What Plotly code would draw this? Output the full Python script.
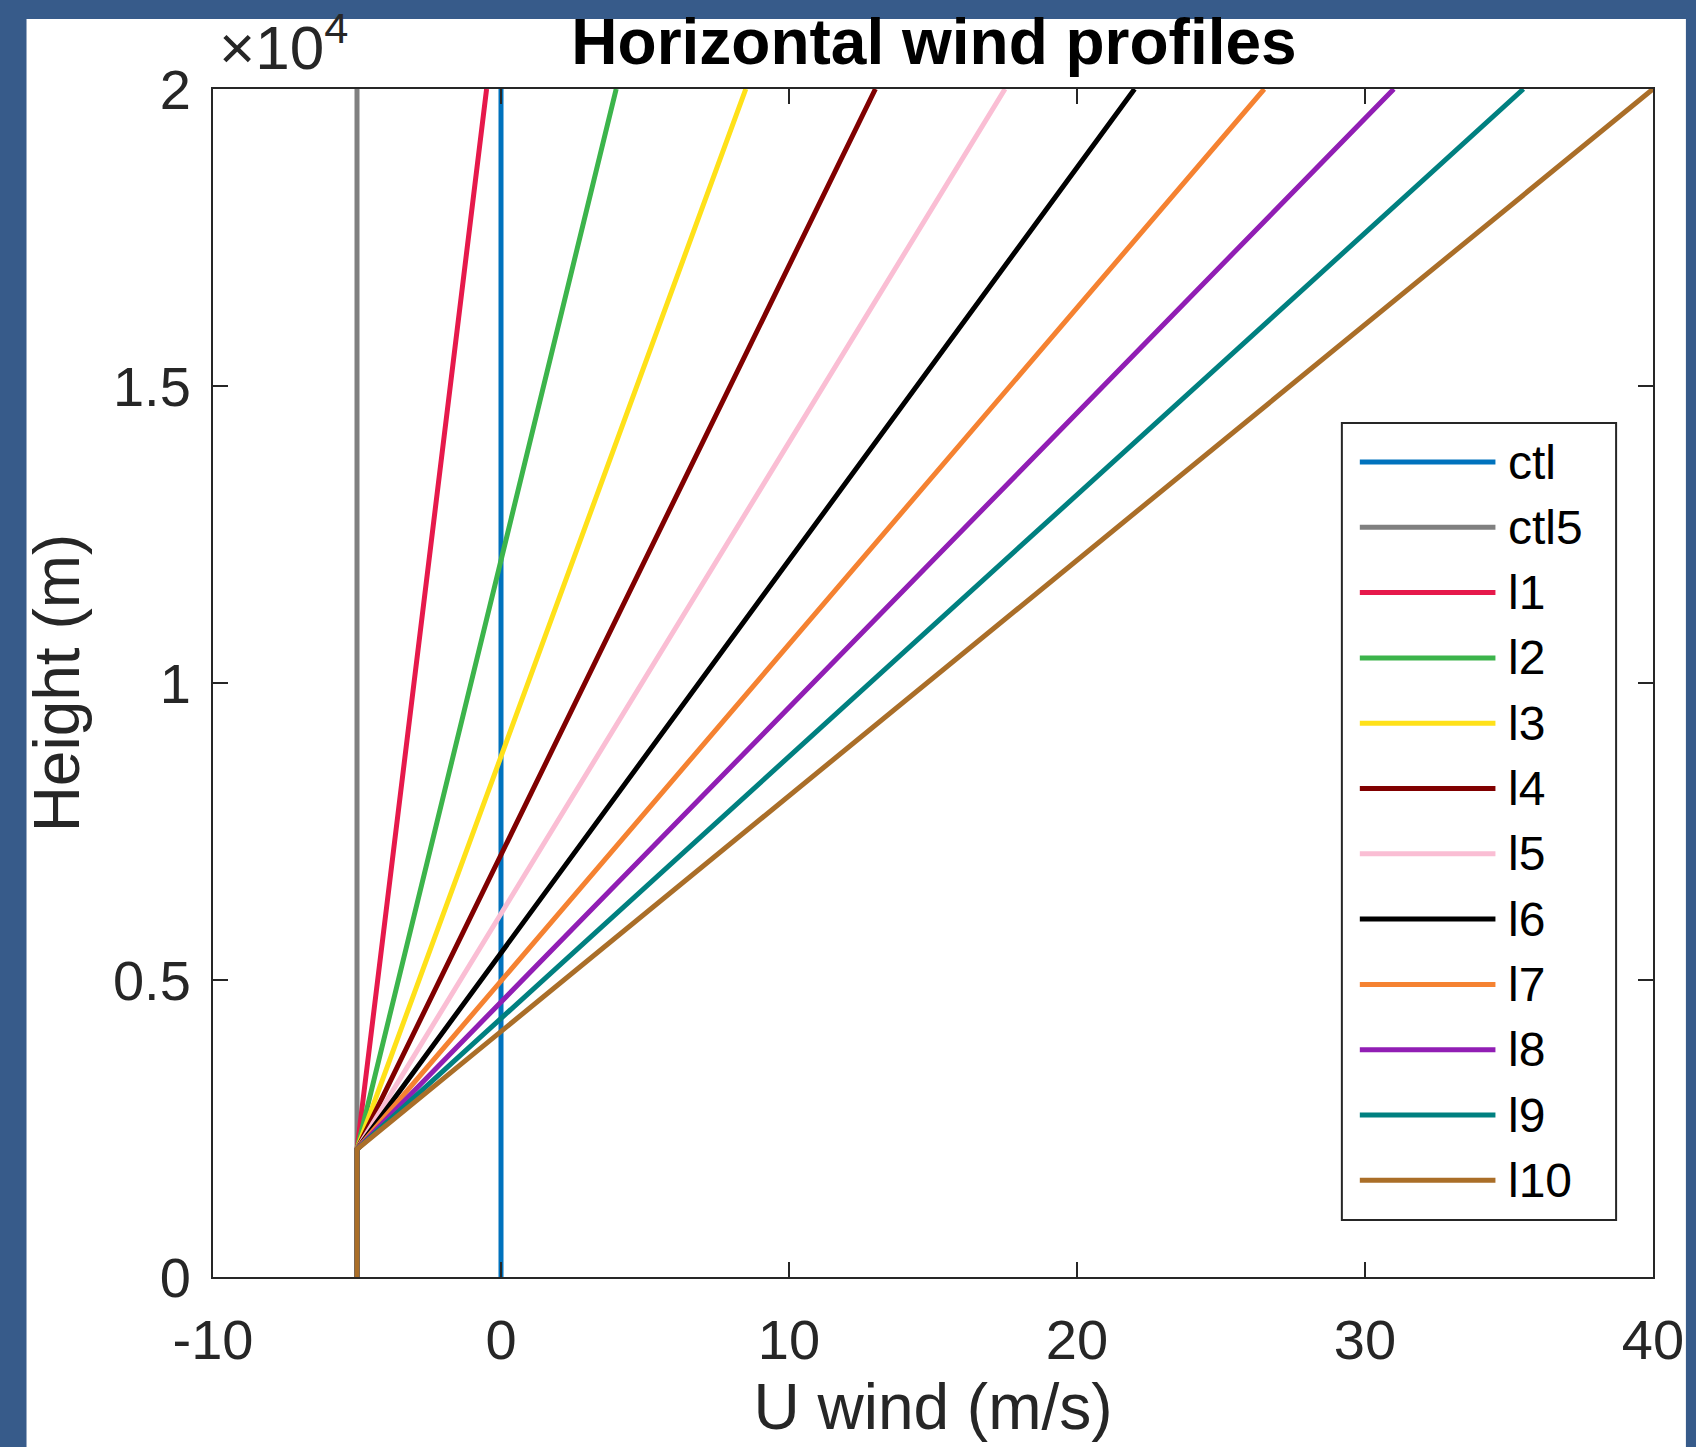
import plotly.graph_objects as go

# ---------------- data ----------------
names = ["ctl", "ctl5", "l1", "l2", "l3", "l4", "l5", "l6", "l7", "l8", "l9", "l10"]
colors = ["#0072BD", "#808080", "#E6194B", "#3CB44B", "#FFE119", "#800000",
          "#FABED4", "#000000", "#F58231", "#911EB4", "#008080", "#AA6E28"]
# profile heights (m): surface, top of constant layer, model top
heights_ctl = [0, 20000]
heights_shear = [0, 2150, 20000]
u_ctl = [0, 0]
u_ctl5 = [-5, -5]
# U wind (m/s) at each height for the sheared profiles l1..l10
u_l1 = [-5, -5, -0.5]
u_l2 = [-5, -5, 4.0]
u_l3 = [-5, -5, 8.5]
u_l4 = [-5, -5, 13.0]
u_l5 = [-5, -5, 17.5]
u_l6 = [-5, -5, 22.0]
u_l7 = [-5, -5, 26.5]
u_l8 = [-5, -5, 31.0]
u_l9 = [-5, -5, 35.5]
u_l10 = [-5, -5, 40.0]
x_ticks = [-10, 0, 10, 20, 30, 40]
y_ticks = [0, 5000, 10000, 15000, 20000]
y_ticktext = ["0", "0.5", "1", "1.5", "2"]

series = [(u_ctl, heights_ctl), (u_ctl5, heights_ctl),
          (u_l1, heights_shear), (u_l2, heights_shear), (u_l3, heights_shear),
          (u_l4, heights_shear), (u_l5, heights_shear), (u_l6, heights_shear),
          (u_l7, heights_shear), (u_l8, heights_shear), (u_l9, heights_shear),
          (u_l10, heights_shear)]

# ---------------- layout geometry ----------------
W, H = 1696, 1447
L, R, T, B = 213, 1657, 89, 1277
PW, PH = R - L, B - T


def px(xp):
    return (xp - L) / PW


def py(yp):
    return (B - yp) / PH


AX = "#262626"
FONT = "Liberation Sans, Arial, Helvetica, sans-serif"
LW = 5

fig = go.Figure()
for (u, z), n, c in zip(series, names, colors):
    fig.add_trace(go.Scatter(x=u, y=z, mode="lines", name=n,
                             line=dict(color=c, width=LW), showlegend=False))

shapes = []
annotations = []
# white figure area on blue background
shapes.append(dict(type="rect", xref="paper", yref="paper",
                   x0=px(26), x1=px(1690), y0=py(1447), y1=py(19),
                   fillcolor="white", line=dict(width=0), layer="below"))

# MATLAB-style legend box
lx0, lx1, ly0, ly1 = 1345, 1620, 423, 1220
shapes.append(dict(type="rect", xref="paper", yref="paper",
                   x0=px(lx0), x1=px(lx1), y0=py(ly1), y1=py(ly0),
                   fillcolor="white", line=dict(color=AX, width=2), layer="above"))
for i, (n, c) in enumerate(zip(names, colors)):
    yy = 462 + i * 65.3
    shapes.append(dict(type="line", xref="paper", yref="paper",
                       x0=px(1363), x1=px(1499), y0=py(yy), y1=py(yy),
                       line=dict(color=c, width=LW), layer="above"))
    annotations.append(dict(xref="paper", yref="paper", x=px(1510), y=py(yy),
                            xanchor="left", yanchor="middle", text=n, showarrow=False,
                            font=dict(family=FONT, size=48, color="black")))

# exponent label
annotations.append(dict(xref="paper", yref="paper", x=px(217), y=py(84),
                        xanchor="left", yanchor="bottom",
                        text="\u00d710<sup>4</sup>", showarrow=False,
                        font=dict(family=FONT, size=62, color=AX)))

fig.update_layout(
    width=W, height=H,
    margin=dict(l=L, r=W - R, t=T, b=H - B, pad=0),
    paper_bgcolor="#375B8A",
    plot_bgcolor="white",
    font=dict(family=FONT, color=AX),
    title=dict(text="<b>Horizontal wind profiles</b>", x=px(936), xref="paper",
               xanchor="center", y=1 - 42 / H, yanchor="middle",
               font=dict(family=FONT, size=64, color="black")),
    shapes=shapes,
    annotations=annotations,
    showlegend=False,
)
fig.update_xaxes(range=[-10, 40], tickvals=x_ticks, ticktext=[str(v) for v in x_ticks],
                 ticks="inside", ticklen=15, tickwidth=2, tickcolor=AX,
                 showline=True, linewidth=2, linecolor=AX, mirror="allticks",
                 showgrid=False, zeroline=False,
                 tickfont=dict(family=FONT, size=56, color=AX),
                 ticklabelstandoff=13,
                 title=dict(text="U wind (m/s)", font=dict(family=FONT, size=64, color=AX),
                            standoff=6))
fig.update_yaxes(range=[0, 20000], tickvals=y_ticks, ticktext=y_ticktext,
                 ticks="inside", ticklen=15, tickwidth=2, tickcolor=AX,
                 showline=True, linewidth=2, linecolor=AX, mirror="allticks",
                 showgrid=False, zeroline=False,
                 tickfont=dict(family=FONT, size=56, color=AX),
                 ticklabelstandoff=9,
                 title=dict(text="Height (m)", font=dict(family=FONT, size=64, color=AX),
                            standoff=13))

fig.write_html("out.html")
